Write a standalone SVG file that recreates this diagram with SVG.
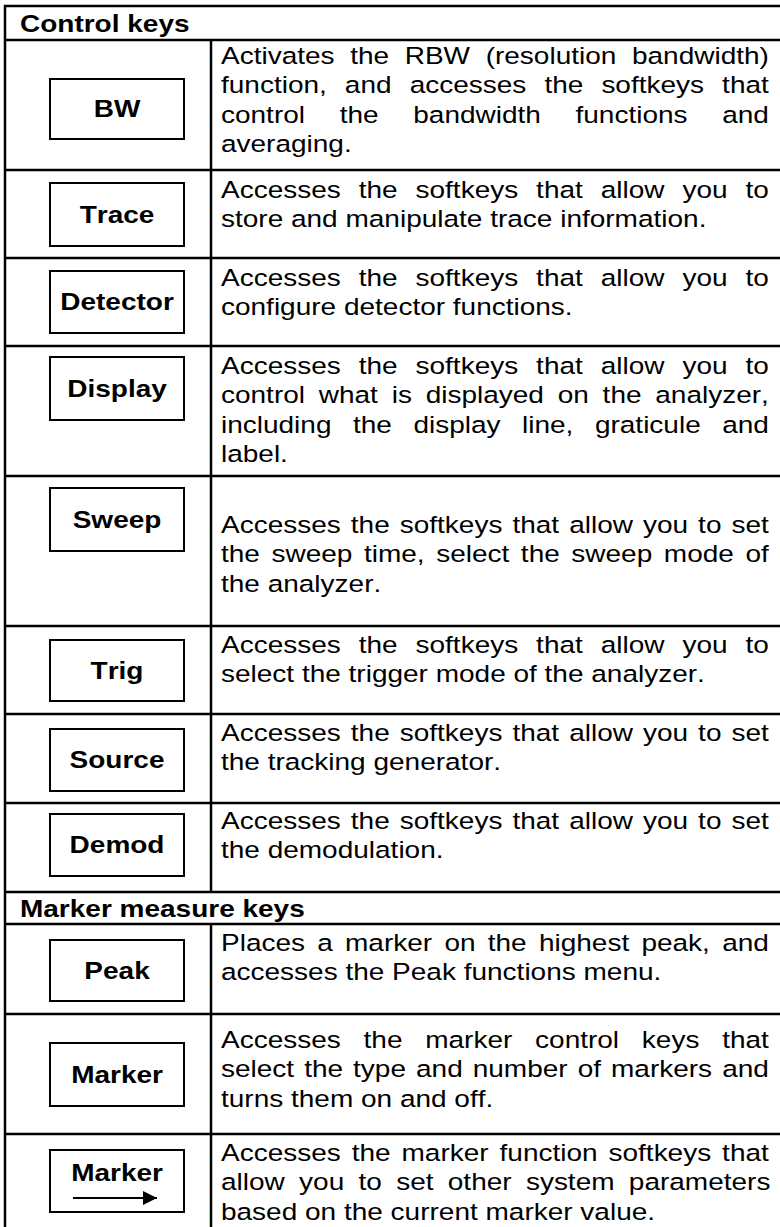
<svg xmlns="http://www.w3.org/2000/svg" width="780" height="1227" viewBox="0 0 780 1227">
<style>
.bg{fill:#fff}
.grid{stroke:#000;stroke-width:2.5;fill:none}
.key{fill:#fff;stroke:#000;stroke-width:2}
.d{font-family:'Liberation Sans',Arial,sans-serif;font-size:24.5px;fill:#000;font-kerning:none}
.h{font-family:'Liberation Sans',Arial,sans-serif;font-size:24.5px;font-weight:bold;fill:#000;font-kerning:none}
.k{font-family:'Liberation Sans',Arial,sans-serif;font-size:24.5px;font-weight:bold;fill:#000;text-anchor:middle;font-kerning:none}
</style>
<defs>
<marker id="ah" viewBox="0 0 14 13" refX="13" refY="6.5" markerWidth="14" markerHeight="13" markerUnits="userSpaceOnUse" orient="auto"><path d="M0,0 L14,6.5 L0,13 Z" fill="#000"/></marker>
</defs>
<rect class="bg" x="0" y="0" width="780" height="1227"/>
<g id="table" class="grid">
<rect x="5" y="6" width="780" height="1240"/>
<line x1="5" y1="40" x2="780" y2="40"/>
<line x1="5" y1="170" x2="780" y2="170"/>
<line x1="5" y1="258" x2="780" y2="258"/>
<line x1="5" y1="346" x2="780" y2="346"/>
<line x1="5" y1="476" x2="780" y2="476"/>
<line x1="5" y1="626" x2="780" y2="626"/>
<line x1="5" y1="714" x2="780" y2="714"/>
<line x1="5" y1="803" x2="780" y2="803"/>
<line x1="5" y1="892" x2="780" y2="892"/>
<line x1="5" y1="924" x2="780" y2="924"/>
<line x1="5" y1="1014" x2="780" y2="1014"/>
<line x1="5" y1="1134" x2="780" y2="1134"/>
<line x1="211" y1="40" x2="211" y2="892"/>
<line x1="211" y1="924" x2="211" y2="1230"/>
</g>
<g id="headers" transform="scale(1.143 1)">
<text class="h" x="17.5" y="32">Control keys</text>
<text class="h" x="17.5" y="917">Marker measure keys</text>
</g>
<g id="key-bw">
<rect class="key" x="50" y="79" width="134" height="60"/>
<text class="k" transform="scale(1.143 1)" x="102.4" y="117.5">BW</text>
<g transform="scale(1.143 1)">
<text class="d" x="193.35" y="64" word-spacing="6.87">Activates the RBW (resolution bandwidth)</text>
<text class="d" x="193.35" y="93.3" word-spacing="9.01">function, and accesses the softkeys that</text>
<text class="d" x="193.35" y="122.6" word-spacing="23.53">control the bandwidth functions and</text>
<text class="d" x="193.35" y="151.9">averaging.</text>
</g>
</g>
<g id="key-trace">
<rect class="key" x="50" y="183" width="134" height="63"/>
<text class="k" transform="scale(1.143 1)" x="102.4" y="223">Trace</text>
<g transform="scale(1.143 1)">
<text class="d" x="193.35" y="198" word-spacing="8.88">Accesses the softkeys that allow you to</text>
<text class="d" x="193.35" y="227.3">store and manipulate trace information.</text>
</g>
</g>
<g id="key-detector">
<rect class="key" x="50" y="271" width="134" height="62"/>
<text class="k" transform="scale(1.143 1)" x="102.4" y="310.5">Detector</text>
<g transform="scale(1.143 1)">
<text class="d" x="193.35" y="286" word-spacing="8.88">Accesses the softkeys that allow you to</text>
<text class="d" x="193.35" y="315.3">configure detector functions.</text>
</g>
</g>
<g id="key-display">
<rect class="key" x="50" y="357" width="134" height="63"/>
<text class="k" transform="scale(1.143 1)" x="102.4" y="397">Display</text>
<g transform="scale(1.143 1)">
<text class="d" x="193.35" y="374" word-spacing="8.88">Accesses the softkeys that allow you to</text>
<text class="d" x="193.35" y="403.3" word-spacing="5.25">control what is displayed on the analyzer,</text>
<text class="d" x="193.35" y="432.6" word-spacing="12.02">including the display line, graticule and</text>
<text class="d" x="193.35" y="461.9">label.</text>
</g>
</g>
<g id="key-sweep">
<rect class="key" x="50" y="488" width="134" height="63"/>
<text class="k" transform="scale(1.143 1)" x="102.4" y="528">Sweep</text>
<g transform="scale(1.143 1)">
<text class="d" x="193.35" y="533" word-spacing="1.97">Accesses the softkeys that allow you to set</text>
<text class="d" x="193.35" y="562.3" word-spacing="3.32">the sweep time, select the sweep mode of</text>
<text class="d" x="193.35" y="591.6">the analyzer.</text>
</g>
</g>
<g id="key-trig">
<rect class="key" x="50" y="640" width="134" height="61"/>
<text class="k" transform="scale(1.143 1)" x="102.4" y="679">Trig</text>
<g transform="scale(1.143 1)">
<text class="d" x="193.35" y="653" word-spacing="8.88">Accesses the softkeys that allow you to</text>
<text class="d" x="193.35" y="682.3">select the trigger mode of the analyzer.</text>
</g>
</g>
<g id="key-source">
<rect class="key" x="50" y="729" width="134" height="62"/>
<text class="k" transform="scale(1.143 1)" x="102.4" y="768.5">Source</text>
<g transform="scale(1.143 1)">
<text class="d" x="193.35" y="741" word-spacing="1.97">Accesses the softkeys that allow you to set</text>
<text class="d" x="193.35" y="770.3">the tracking generator.</text>
</g>
</g>
<g id="key-demod">
<rect class="key" x="50" y="814" width="134" height="62"/>
<text class="k" transform="scale(1.143 1)" x="102.4" y="853.5">Demod</text>
<g transform="scale(1.143 1)">
<text class="d" x="193.35" y="829" word-spacing="1.97">Accesses the softkeys that allow you to set</text>
<text class="d" x="193.35" y="858.3">the demodulation.</text>
</g>
</g>
<g id="key-peak">
<rect class="key" x="50" y="940" width="134" height="61"/>
<text class="k" transform="scale(1.143 1)" x="102.4" y="979">Peak</text>
<g transform="scale(1.143 1)">
<text class="d" x="193.35" y="951" word-spacing="3.91">Places a marker on the highest peak, and</text>
<text class="d" x="193.35" y="980.3">accesses the Peak functions menu.</text>
</g>
</g>
<g id="key-marker">
<rect class="key" x="50" y="1043" width="134" height="63"/>
<text class="k" transform="scale(1.143 1)" x="102.4" y="1083">Marker</text>
<g transform="scale(1.143 1)">
<text class="d" x="193.35" y="1048" word-spacing="13.12">Accesses the marker control keys that</text>
<text class="d" x="193.35" y="1077.3" word-spacing="1.97">select the type and number of markers and</text>
<text class="d" x="193.35" y="1106.6">turns them on and off.</text>
</g>
</g>
<g id="key-marker-fn">
<rect class="key" x="50" y="1150" width="134" height="62"/>
<text class="k" transform="scale(1.143 1)" x="102.4" y="1181">Marker</text>
<line x1="73" y1="1198" x2="157" y2="1198" stroke="#000" stroke-width="2"/>
<polygon points="143,1191 157,1198 143,1205" fill="#000"/>
<g transform="scale(1.143 1)">
<text class="d" x="193.35" y="1161" word-spacing="2.76">Accesses the marker function softkeys that</text>
<text class="d" x="193.35" y="1190.3" word-spacing="5.71">allow you to set other system parameters</text>
<text class="d" x="193.35" y="1219.6">based on the current marker value.</text>
</g>
</g>
</svg>
